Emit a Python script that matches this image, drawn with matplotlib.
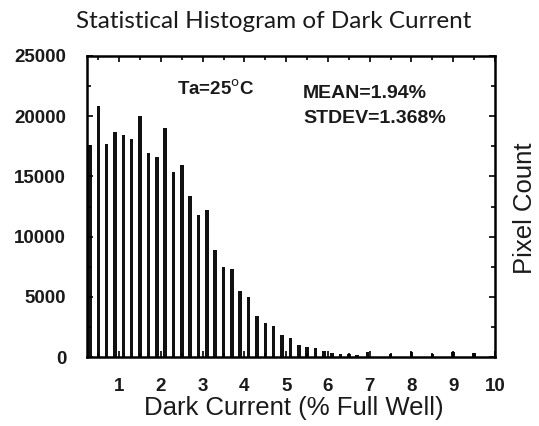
import matplotlib
matplotlib.use("Agg")
import matplotlib.pyplot as plt
from matplotlib.ticker import MultipleLocator

# Data
bin_centers = [0.3, 0.5, 0.7, 0.9, 1.1, 1.3, 1.5, 1.7, 1.9, 2.1, 2.3, 2.5,
               2.7, 2.9, 3.1, 3.3, 3.5, 3.7, 3.9, 4.1, 4.3, 4.5, 4.7, 4.9,
               5.1, 5.3, 5.5, 5.7, 5.9, 6.1, 6.3, 6.5, 6.7, 6.95,
               7.5, 8.0, 8.5, 9.0, 9.5]
pixel_counts = [17600, 20850, 17700, 18650, 18450, 18100, 20050, 16950, 16600,
                19000, 15400, 15950, 13400, 11800, 12250, 8850, 7500, 7300,
                5500, 4950, 3400, 2800, 2600, 1800, 1550, 1000, 800, 780,
                500, 320, 280, 220, 200, 380,
                280, 380, 280, 380, 300]
x_ticks = [1, 2, 3, 4, 5, 6, 7, 8, 9, 10]
y_ticks = [0, 5000, 10000, 15000, 20000, 25000]

W, H = 539, 426
fig = plt.figure(figsize=(W / 100, H / 100), dpi=100)
ax = fig.add_axes([87 / W, 1 - 357 / H, (495 - 87) / W, (357 - 56) / H])

ax.bar(bin_centers, pixel_counts, width=0.085, color="#111111", linewidth=0)

ax.set_xlim(0.23, 10)
ax.set_ylim(0, 25000)
ax.set_xticks(x_ticks)
ax.set_yticks(y_ticks)
ax.xaxis.set_minor_locator(MultipleLocator(0.5))
ax.yaxis.set_minor_locator(MultipleLocator(2500))
ax.tick_params(which="both", direction="in", top=True, right=True,
               width=1.2, color="black")
ax.tick_params(which="major", length=4, pad=15)
ax.tick_params(which="minor", length=3)
for lab in ax.get_xticklabels() + ax.get_yticklabels():
    lab.set_fontfamily("Liberation Sans")
    lab.set_fontweight("bold")
    lab.set_fontsize(13.5)
    lab.set_color("#1a1a1a")
for sp in ax.spines.values():
    sp.set_linewidth(1.8)
    sp.set_color("black")

# Title
fig.text(274 / W, 1 - 22 / H, "Statistical Histogram of Dark Current",
         ha="center", va="center", fontsize=17.5, fontweight="normal",
         family=["Lato", "Liberation Sans"], color="#1a1a1a")

# Axis labels
fig.text(293.5 / W, 1 - 408 / H, "Dark Current (% Full Well)",
         ha="center", va="center", fontsize=18.5, family="Liberation Sans",
         color="#1a1a1a")
fig.text(525 / W, 1 - 208 / H, "Pixel Count", rotation=90,
         ha="center", va="center", fontsize=18.5, family="Liberation Sans",
         color="#1a1a1a")

# Annotations
fig.text(176.7 / W, 1 - 89 / H, "Ta=25$^{\\mathrm{o}}$C", ha="left", va="center",
         fontsize=13.5, family="Liberation Sans", fontweight="bold",
         color="#1a1a1a")
fig.text(303 / W, 1 - 93.5 / H, "MEAN=1.94%", ha="left", va="center",
         fontsize=14, family="Liberation Sans", fontweight="bold",
         color="#1a1a1a")
fig.text(303 / W, 1 - 119 / H, "STDEV=1.368%", ha="left", va="center",
         fontsize=14, family="Liberation Sans", fontweight="bold",
         color="#1a1a1a")

fig.savefig("out.png", dpi=100)
